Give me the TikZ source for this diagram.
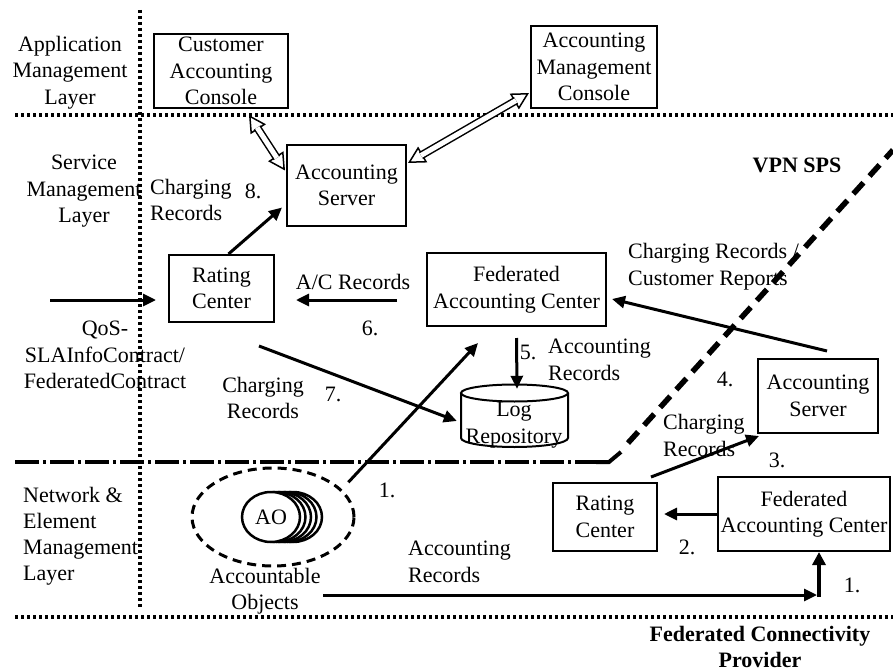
\documentclass[tikz,border=0pt]{standalone}
\usepackage{fontspec}
\setmainfont{Liberation Serif}
\usetikzlibrary{arrows.meta,shapes.geometric}
\begin{document}
\begin{tikzpicture}[x=1pt,y=-1pt,
  every node/.style={font=\fontsize{22}{26.5}\selectfont, inner sep=0pt},
  box/.style={draw, line width=2pt, align=center, fill=white},
  lbl/.style={align=center},
  lbll/.style={align=left, anchor=west},
  bold/.style={font=\fontsize{22}{26}\selectfont\bfseries, align=center},
  flow/.style={line width=3pt, -{Triangle[length=13pt,width=12pt]}},
  hollowtip/.style={white, line width=1pt,
    {Triangle[color=black, fill=white, line width=1.5pt, length=17pt, width=18pt]}-{Triangle[color=black, fill=white, line width=1.5pt, length=17pt, width=18pt]}},
  hollowshaft/.style={double, double distance=5pt, line width=1.5pt, shorten <=15pt, shorten >=15pt},
  layerline/.style={line width=3.5pt, dash pattern=on 3pt off 3pt},
  midline/.style={line width=4pt, dash pattern=on 24pt off 4pt on 3pt off 4pt},
  spsline/.style={line width=5.5pt, dash pattern=on 15pt off 9pt},
]
\useasboundingbox (0,0) rectangle (893,671);

% layer boundaries
\draw[layerline] (140,10) -- (140,608);
\draw[layerline] (15,115) -- (893,115);
\draw[layerline] (15,617) -- (893,617);
\draw[midline] (15,462) -- (607,462);
\draw[line width=4pt] (596,462) -- (609,462) -- (621,452);
\draw[spsline] (628,443) -- (893,150);

% layer names
\node[lbl] (lapp) at (70,72.5) {Application\\Management\\Layer};
\node[lbl] (lsrv) at (84,191.5) {Service\\Management\\Layer};
\node[lbll, font=\fontsize{22}{26}\selectfont] (lnet) at (23,536) {Network \&\\Element\\Management\\Layer};

% boxes
\node[box, minimum width=134, minimum height=74] (cac) at (221,71) {Customer\\Accounting\\Console};
\node[box, minimum width=126, minimum height=82] (amc) at (594,67) {Accounting\\Management\\Console};
\node[box, minimum width=119, minimum height=81] (as1) at (346.5,185.5) {Accounting\\Server};
\node[box, minimum width=105, minimum height=67] (rc1) at (221.5,288.5) {Rating\\Center};
\node[box, minimum width=179, minimum height=73] (fac1) at (516.5,289.5) {Federated\\Accounting Center};
\node[box, minimum width=120, minimum height=74] (as2) at (818,396) {Accounting\\Server};
\node[box, minimum width=104, minimum height=68] (rc2) at (605,517) {Rating\\Center};
\node[box, minimum width=172, minimum height=74] (fac2) at (804,514) {Federated\\Accounting Center};

% log repository (cylinder)
\node[minimum width=107, minimum height=62] (log) at (514.5,416) {};
\draw[line width=2pt, fill=white] (461,393) -- (461,438)
  arc[start angle=180, end angle=0, x radius=53.5, y radius=9] -- (568,393);
\draw[line width=2pt] (514.5,393) ellipse [x radius=53.5, y radius=8.5];
\node[lbl] (logtxt) at (514,425) {Log\\Repository};

% accountable objects
\node[ellipse, draw, line width=3pt, dash pattern=on 9pt off 6pt, minimum width=162, minimum height=98] (aoe) at (273,517) {};
\foreach \dx in {22,16.5,11,5.5}
  \draw[line width=2.5pt, fill=white] (271+\dx,517) ellipse [x radius=29, y radius=25];
\node[ellipse, draw, line width=2.5pt, fill=white, minimum width=58, minimum height=50] (ao) at (271,517) {AO};
\node[lbl] (aolbl) at (265,591) {Accountable\\Objects};

% hollow two-way connectors of the management plane
\coordinate (cacs) at ([xshift=28,yshift=-6]cac.south);
\coordinate (as1w) at ([xshift=-1,yshift=15]as1.west);
\coordinate (as1e) at ([xshift=1,yshift=22.5]as1.east);
\coordinate (amcw) at ([xshift=-1,yshift=-26]amc.west);
\draw[hollowtip] (cacs) -- (as1w);
\draw[hollowshaft] (cacs) -- (as1w);
\draw[hollowtip] (as1e) -- (amcw);
\draw[hollowshaft] (as1e) -- (amcw);

% flows within the VPN SPS
\coordinate (qin) at (50,300);
\draw[flow] (qin) -- ([xshift=-12,yshift=-11.5]rc1.west);
\draw[flow] ([xshift=7]rc1.north) -- ([xshift=-4,yshift=-22]as1.west);
\draw[flow] ([xshift=-29,yshift=-10.5]fac1.west) -- ([xshift=21,yshift=-11.5]rc1.east);
\draw[flow] ([xshift=-16,yshift=-23]rc1.south east) -- ([xshift=-4,yshift=-5]log.west);
\draw[flow] ([yshift=-11]fac1.south) -- ([xshift=2.5,yshift=-4]log.north);
\draw[flow] ([xshift=17,yshift=-1]aoe.north east) -- ([xshift=52,yshift=-16]fac1.south west);
\draw[flow] ([xshift=9,yshift=7]as2.north) -- ([xshift=5,yshift=-9.5]fac1.east);

% flows within the connectivity provider
\draw[flow] ([xshift=-7,yshift=5]rc2.north east) -- ([xshift=2,yshift=-2]as2.south west);
\draw[flow] (fac2.west) -- ([xshift=6]rc2.east |- fac2.west);
\coordinate (aoout) at (323,595);
\coordinate (bend) at ([xshift=15]fac2.south |- aoout);
\draw[flow] (aoout) -- ([xshift=-2]bend);
\draw[line width=4.5pt, -{Triangle[length=13pt,width=13pt]}] ([yshift=-2]bend) -- ([xshift=15]fac2.south);

% flow labels
\node[lbll] (t8a) at (150,200) {Charging\\Records};
\node (t8) at (253,191) {8.};
\node[lbl] (tqos) at (105,355) {QoS-\\SLAInfoContract/\\FederatedContract};
\node (t6a) at (353,282) {A/C Records};
\node (t6) at (370,328) {6.};
\node[lbl] (t7a) at (263,398) {Charging\\Records};
\node (t7) at (333,394) {7.};
\node (t5) at (528,352) {5.};
\node[lbll] (t5a) at (548,360) {Accounting\\Records};
\node[lbll] (t4a) at (628,266.5) {Charging Records /\\Customer Reports};
\node (t4) at (725,379) {4.};
\node[lbll] (t3a) at (663,435.5) {Charging\\Records};
\node (t3) at (777,460) {3.};
\node (t2) at (687,547) {2.};
\node (t1a) at (387,490) {1.};
\node (t1b) at (852,585) {1.};
\node[lbll] (t1c) at (408,562) {Accounting\\Records};

% domain names
\node[bold] (vpn) at (797,165) {VPN SPS};
\node[bold] (fcp) at (760,647) {Federated Connectivity\\Provider};
\end{tikzpicture}
\end{document}
